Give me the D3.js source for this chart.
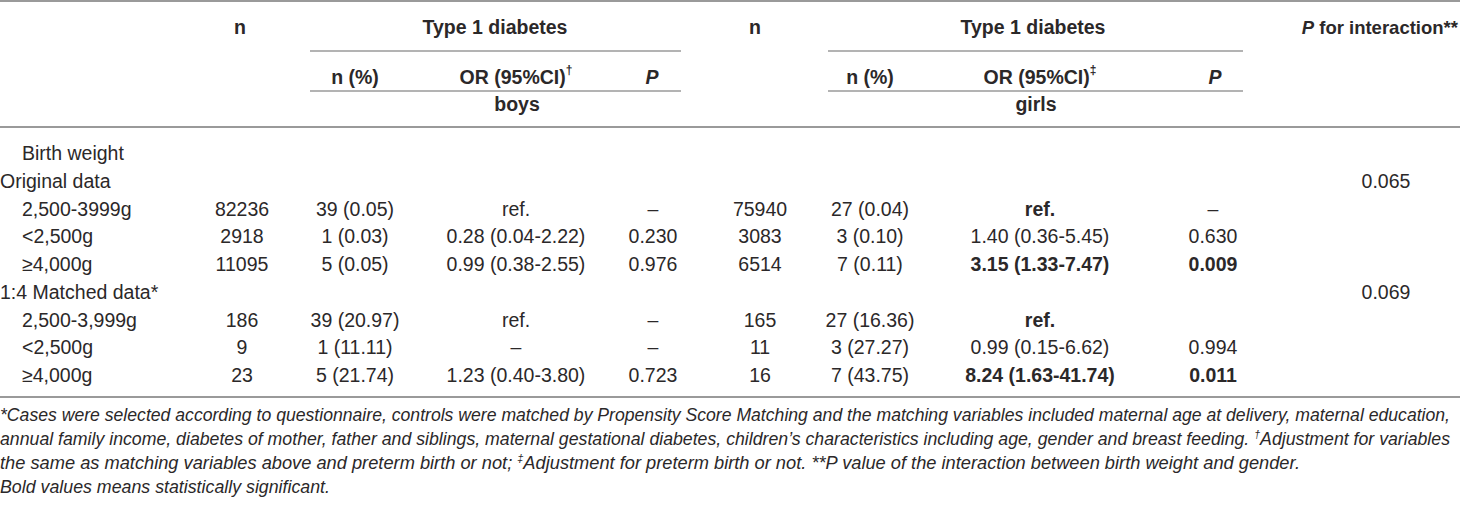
<!DOCTYPE html>
<html><head><meta charset="utf-8">
<script src="https://cdn.jsdelivr.net/npm/d3@7/dist/d3.min.js"></script>
<style>
body{margin:0;background:#fff;}
svg{display:block;}
text{font-family:"Liberation Sans",Arial,Helvetica,sans-serif;fill:#2b2829;}
</style></head>
<body>
<svg id="chart" width="1460" height="506"></svg>
<script>
const rowLabels = ["Birth weight","Original data","2,500-3999g","<2,500g","≥4,000g","1:4 Matched data*","2,500-3,999g","<2,500g","≥4,000g"];
const rowIndent = [1,0,1,1,1,0,1,1,1];
const boysN = ["","","82236","2918","11095","","186","9","23"];
const boysNPct = ["","","39 (0.05)","1 (0.03)","5 (0.05)","","39 (20.97)","1 (11.11)","5 (21.74)"];
const boysOR = ["","","ref.","0.28 (0.04-2.22)","0.99 (0.38-2.55)","","ref.","–","1.23 (0.40-3.80)"];
const boysP = ["","","–","0.230","0.976","","–","–","0.723"];
const girlsN = ["","","75940","3083","6514","","165","11","16"];
const girlsNPct = ["","","27 (0.04)","3 (0.10)","7 (0.11)","","27 (16.36)","3 (27.27)","7 (43.75)"];
const girlsOR = ["","","ref.","1.40 (0.36-5.45)","3.15 (1.33-7.47)","","ref.","0.99 (0.15-6.62)","8.24 (1.63-41.74)"];
const girlsP = ["","","–","0.630","0.009","","","0.994","0.011"];
const pInteraction = ["","0.065","","","","0.069","","",""];
const boldGirlsOR = [2,4,6,8];
const boldGirlsP = [4,8];
const footnotes = [
  [["*Cases were selected according to questionnaire, controls were matched by Propensity Score Matching and the matching variables included maternal age at delivery, maternal education,",""]],
  [["annual family income, diabetes of mother, father and siblings, maternal gestational diabetes, children’s characteristics including age, gender and breast feeding. ",""],["†","sup"],["Adjustment for variables",""]],
  [["the same as matching variables above and preterm birth or not; ",""],["‡","sup"],["Adjustment for preterm birth or not. **P value of the interaction between birth weight and gender.",""]],
  [["Bold values means statistically significant.",""]]
];
const footWidths = [1450, 1450, 1300, 330];

const svg = d3.select("#chart");
const lineCol = "#9a9a9a";

const columns = [
  {key:"bn", vals:boysN, x:242},
  {key:"bp", vals:boysNPct, x:355},
  {key:"bo", vals:boysOR, x:516},
  {key:"bP", vals:boysP, x:653},
  {key:"gn", vals:girlsN, x:760},
  {key:"gp", vals:girlsNPct, x:870},
  {key:"go", vals:girlsOR, x:1040, bold:boldGirlsOR},
  {key:"gP", vals:girlsP, x:1213, bold:boldGirlsP},
  {key:"pi", vals:pInteraction, x:1386}
];

const y = d3.scalePoint().domain(d3.range(rowLabels.length)).range([153, 375]);

function hline(x1,x2,yy,w){svg.append("line").attr("x1",x1).attr("x2",x2).attr("y1",yy).attr("y2",yy).attr("stroke",lineCol).attr("stroke-width",w||1.3);}
hline(0,1460,1,2);
hline(310,681,51,1.3);
hline(828,1243,51,1.3);
hline(310,681,91,1.3);
hline(828,1243,91,1.3);
hline(0,1460,127,2);
hline(0,1460,397,2);

const fs = 19.5;
function htext(x,yy,anchor,size){
  return svg.append("text").attr("x",x).attr("y",yy).attr("text-anchor",anchor||"middle")
    .attr("dominant-baseline","central").attr("font-size",size||fs).attr("font-weight","bold");
}
htext(240,27).text("n");
htext(495,27).text("Type 1 diabetes");
htext(755,27).text("n");
htext(1033,27).text("Type 1 diabetes");
{
  const t = htext(1458,27,"end",18.5);
  t.append("tspan").attr("font-style","italic").text("P");
  t.append("tspan").text(" for interaction**");
}
htext(355,77).text("n (%)");
{
  const t = htext(516,77);
  t.append("tspan").text("OR (95%CI)");
  t.append("tspan").attr("font-size",12).attr("dy",-7).text("†");
}
htext(652,77).attr("font-style","italic").text("P");
htext(870,77).text("n (%)");
{
  const t = htext(1040,77);
  t.append("tspan").text("OR (95%CI)");
  t.append("tspan").attr("font-size",12).attr("dy",-7).text("‡");
}
htext(1215,77).attr("font-style","italic").text("P");
htext(517,104).text("boys");
htext(1036,104).text("girls");

svg.selectAll("text.rl").data(rowLabels).join("text").attr("class","rl")
  .attr("x",(d,i)=>rowIndent[i]?22:0).attr("y",(d,i)=>y(i))
  .attr("dominant-baseline","central").attr("font-size",fs).text(d=>d);

columns.forEach(c=>{
  svg.selectAll("text.c"+c.key).data(c.vals).join("text").attr("class","c"+c.key)
    .attr("x",c.x).attr("y",(d,i)=>y(i)).attr("text-anchor","middle")
    .attr("dominant-baseline","central").attr("font-size",fs)
    .attr("font-weight",(d,i)=>c.bold && c.bold.includes(i)?"bold":"normal")
    .text(d=>d);
});

footnotes.forEach((parts,i)=>{
  const t = svg.append("text").attr("x",0).attr("y",415+i*24).attr("dominant-baseline","central")
    .attr("font-size",17.5).attr("font-style","italic")
    .attr("textLength",footWidths[i]).attr("lengthAdjust","spacingAndGlyphs");
  parts.forEach((p,j)=>{
    const s = t.append("tspan").text(p[0]);
    if(p[1]==="sup"){ s.attr("font-size",10.5).attr("dy",-5); }
    else if(j>0){ s.attr("dy",5).attr("font-size",17.5); }
  });
});
</script>
</body></html>
